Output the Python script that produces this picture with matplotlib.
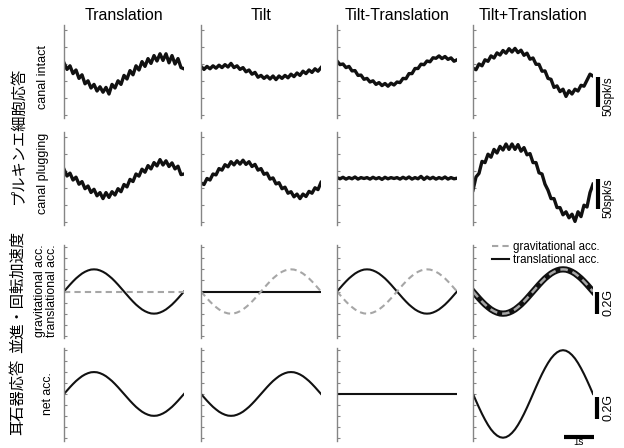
import matplotlib
matplotlib.use("Agg")
import matplotlib.pyplot as plt

# time axis (s), one stimulus cycle over the panel width
t = [0.0, 0.1, 0.2, 0.3, 0.4, 0.5, 0.6, 0.7, 0.8, 0.9, 1.0,
     1.1, 1.2, 1.3, 1.4, 1.5, 1.6, 1.7, 1.8, 1.9, 2.0,
     2.1, 2.2, 2.3, 2.4, 2.5, 2.6, 2.7, 2.8, 2.9, 3.0,
     3.1, 3.2, 3.3, 3.4, 3.5, 3.6, 3.7, 3.8, 3.9, 4.0]
t_ends = [0.0, 4.0]
flat = [0.0, 0.0]

titles = ["Translation", "Tilt", "Tilt-Translation", "Tilt+Translation"]

# Purkinje cell firing rate (spk/s), canal intact
intact_translation = [92, 81, 87, 74, 80, 66, 72, 57, 62, 50, 56, 45, 52, 43, 51, 40, 56, 50, 62, 56, 71,
                      65, 79, 72, 87, 80, 94, 86, 99, 91, 104, 95, 107, 96, 107, 92, 104, 90, 99, 84, 82]
intact_tilt = [86, 81, 86, 82, 87, 83, 88, 84, 89, 85, 91, 84, 87, 81, 84, 77, 80, 73, 76, 68, 71,
               66, 70, 65, 70, 64, 70, 66, 71, 67, 73, 69, 75, 71, 78, 74, 80, 76, 82, 78, 84]
intact_tilt_minus = [95, 89, 90, 84, 86, 78.5, 79, 71, 71.5, 64.5, 66, 60, 62, 56, 59, 54, 57.5, 53, 58, 55, 60,
                     59, 66, 65.5, 74, 74, 82.5, 82.5, 89.7, 88.8, 95, 93.7, 100.4, 99.5, 103.5, 99, 102.5, 97.7, 100.2, 94.6, 97]
intact_tilt_plus = [83, 80.5, 90, 87, 97, 94.5, 103.5, 100, 108.5, 105, 112.5, 108, 115.5, 110, 116, 109, 113, 104.5, 108, 98, 100,
                    89.5, 89.5, 78, 78.5, 66, 64.5, 51, 53.5, 44, 48, 36, 45.5, 40, 48, 45, 54.5, 53, 63, 73, 70]

# Purkinje cell firing rate (spk/s), canal plugging
plug_translation = [93, 81.7, 86.4, 75, 79.7, 68, 72.3, 60.5, 65, 54.2, 59.5, 48.7, 54, 44, 54, 46, 55.5, 50, 60.5, 55.5, 67.5,
                    63.5, 76, 72.5, 85, 81.5, 93, 88, 99, 93.5, 104, 98.5, 109, 100, 107, 97.5, 103.5, 93.5, 98, 84, 85]
plug_tilt = [70, 67.5, 77.5, 75, 85, 83.5, 94, 91.5, 100.5, 97, 105.5, 100.2, 107, 101.5, 108, 101, 105.5, 97.5, 101, 91.5, 94,
             84.5, 86.5, 76.5, 78.5, 68.5, 70.5, 60.5, 63, 53, 55.5, 47, 51.5, 44, 51.5, 47.5, 56, 53, 62, 59, 71]
plug_tilt_minus = [79, 77, 79.5, 76.5, 79, 77, 80, 76.5, 79, 77.5, 79, 76.5, 79.5, 77, 79, 76, 79.5, 77, 79, 77.5, 79,
                   76.5, 79.5, 77, 80, 76.5, 79, 77, 81, 76, 80, 77, 79.5, 76.5, 79, 77, 80, 76.5, 79, 77, 78]
plug_tilt_plus = [58, 80, 86, 106, 104, 118, 113, 126, 120, 131, 125, 135, 126, 135, 126, 134, 123, 129, 117, 119, 104,
                  104, 87, 85, 68, 58, 44, 44, 29, 29, 17, 22, 12, 18, 6, 22, 14, 33, 30, 54, 68]

# stimulus accelerations (G)
acc_up = [0.0, 0.031, 0.062, 0.091, 0.118, 0.141, 0.162, 0.178, 0.190, 0.198, 0.2,
          0.198, 0.190, 0.178, 0.162, 0.141, 0.118, 0.091, 0.062, 0.031, 0.0,
          -0.031, -0.062, -0.091, -0.118, -0.141, -0.162, -0.178, -0.190, -0.198, -0.2,
          -0.198, -0.190, -0.178, -0.162, -0.141, -0.118, -0.091, -0.062, -0.031, 0.0]
acc_down = [0.0, -0.031, -0.062, -0.091, -0.118, -0.141, -0.162, -0.178, -0.190, -0.198, -0.2,
            -0.198, -0.190, -0.178, -0.162, -0.141, -0.118, -0.091, -0.062, -0.031, 0.0,
            0.031, 0.062, 0.091, 0.118, 0.141, 0.162, 0.178, 0.190, 0.198, 0.2,
            0.198, 0.190, 0.178, 0.162, 0.141, 0.118, 0.091, 0.062, 0.031, 0.0]
acc_down_double = [0.0, -0.063, -0.124, -0.182, -0.235, -0.283, -0.324, -0.356, -0.380, -0.395, -0.4,
                   -0.395, -0.380, -0.356, -0.324, -0.283, -0.235, -0.182, -0.124, -0.063, 0.0,
                   0.063, 0.124, 0.182, 0.235, 0.283, 0.324, 0.356, 0.380, 0.395, 0.4,
                   0.395, 0.380, 0.356, 0.324, 0.283, 0.235, 0.182, 0.124, 0.063, 0.0]

intact = [intact_translation, intact_tilt, intact_tilt_minus, intact_tilt_plus]
plugged = [plug_translation, plug_tilt, plug_tilt_minus, plug_tilt_plus]
transl_acc = [acc_up, None, acc_up, acc_down]
grav_acc = [None, acc_down, acc_down, acc_down]
net_acc = [acc_up, acc_down, None, acc_down_double]

W, H = 624, 448
fig = plt.figure(figsize=(W / 100, H / 100), dpi=100)

col_x = [64, 201, 337, 473]
row_y = [25, 132, 245, 348]
aw, ah = 120, 93
gray = "#a6a6a6"
spine_gray = "#858585"
sans = "Liberation Sans"
jp = ["Noto Sans CJK JP", "DejaVu Sans"]


def make_axes(x0, y0):
    ax = fig.add_axes([x0 / W, 1 - (y0 + ah) / H, aw / W, ah / H])
    for side in ["top", "right", "bottom"]:
        ax.spines[side].set_visible(False)
    ax.spines["left"].set_color(spine_gray)
    ax.spines["left"].set_linewidth(1.0)
    ax.set_xticks([])
    ax.tick_params(axis="y", direction="in", length=2.5, width=0.8,
                   color=spine_gray, labelleft=False)
    ax.set_xlim(0, 4)
    ax.patch.set_alpha(0)
    return ax


axes = [[make_axes(cx, ry) for cx in col_x] for ry in row_y]

for c in range(4):
    # neuron responses
    for r, data in enumerate([intact, plugged]):
        ax = axes[r][c]
        ax.plot(t, data[c], color="#111111", lw=2.4)
        ax.set_ylim(0, 155)
        ax.set_yticks([5, 33.5, 62, 90.5, 119, 147.5])

    # stimulus row
    ax = axes[2][c]
    ax.set_ylim(-0.42, 0.42)
    ax.set_yticks([-0.4, -0.3, -0.2, -0.1, 0.0, 0.1, 0.2, 0.3, 0.4])
    lw_black = 4.5 if c == 3 else 1.5
    if transl_acc[c] is None:
        ax.plot(t_ends, flat, color="#111111", lw=lw_black)
    else:
        ax.plot(t, transl_acc[c], color="#111111", lw=lw_black,
                label="translational acc.")
    if grav_acc[c] is None:
        ax.plot(t_ends, flat, color=gray, lw=1.5, ls=(0, (3, 2)))
    else:
        ax.plot(t, grav_acc[c], color=gray, lw=1.8 if c == 3 else 1.5,
                ls=(0, (3, 2)), label="gravitational acc.")

    # otolith response
    ax = axes[3][c]
    ax.set_ylim(-0.43, 0.42)
    ax.set_yticks([-0.4, -0.3, -0.2, -0.1, 0.0, 0.1, 0.2, 0.3, 0.4])
    if net_acc[c] is None:
        ax.plot(t_ends, flat, color="#111111", lw=1.5)
    else:
        ax.plot(t, net_acc[c], color="#111111", lw=1.5)

# legend built from the normal-width lines of the Tilt-Translation panel
h, l = axes[2][2].get_legend_handles_labels()
axes[2][3].legend(h[::-1], l[::-1], loc="upper left",
                  bbox_to_anchor=(492 / W, 1 - 241 / H), bbox_transform=fig.transFigure,
                  frameon=False, handlelength=1.5, handletextpad=0.3,
                  labelspacing=0.05, borderpad=0, borderaxespad=0,
                  prop={"family": sans, "size": 8.3})

# scale bars
bar = dict(color="black", lw=3, clip_on=False, solid_capstyle="butt")
axes[0][3].plot([4.16, 4.16], [18, 68], **bar)
axes[0][3].text(4.53, 37, "50spk/s", rotation=90, ha="center", va="center",
                fontsize=8.3, family=sans)
axes[1][3].plot([4.16, 4.16], [27, 77], **bar)
axes[1][3].text(4.53, 45, "50spk/s", rotation=90, ha="center", va="center",
                fontsize=8.3, family=sans)
axes[2][3].plot([4.14, 4.14], [-0.2, 0.0], **bar)
axes[2][3].text(4.53, -0.1, "0.2G", rotation=90, ha="center", va="center",
                fontsize=9, family=sans)
axes[3][3].plot([4.14, 4.14], [-0.23, -0.03], **bar)
axes[3][3].text(4.53, -0.12, "0.2G", rotation=90, ha="center", va="center",
                fontsize=9, family=sans)
axes[3][3].plot([3.03, 4.03], [-0.395, -0.395], **bar)
fig.text(579 / W, 1 / H, "1s", ha="center", va="bottom", fontsize=7, family=sans)

# column titles
for c, name in enumerate(titles):
    fig.text((col_x[c] + aw / 2) / W, 1 - 15 / H, name, ha="center", va="center",
             fontsize=11.5, family=sans)

# row labels


def ftext(x, y, s, **kw):
    fig.text(x / W, 1 - y / H, s, rotation=90, ha="center", va="center", **kw)


ftext(43, 77, "canal intact", fontsize=9, family=sans)
ftext(43, 173, "canal plugging", fontsize=9, family=sans)
ftext(46, 291, "gravitational acc.\ntranslational acc.", fontsize=8.8,
      family=sans, linespacing=0.95)
ftext(48, 394, "net acc.", fontsize=8.8, family=sans)
ftext(18, 135, "プルキンエ細胞応答", fontsize=11, family=jp)
ftext(17, 292, "並進・回転加速度", fontsize=11, family=jp)
ftext(17, 397, "耳石器応答", fontsize=11, family=jp)

fig.savefig("out.png", dpi=100)
